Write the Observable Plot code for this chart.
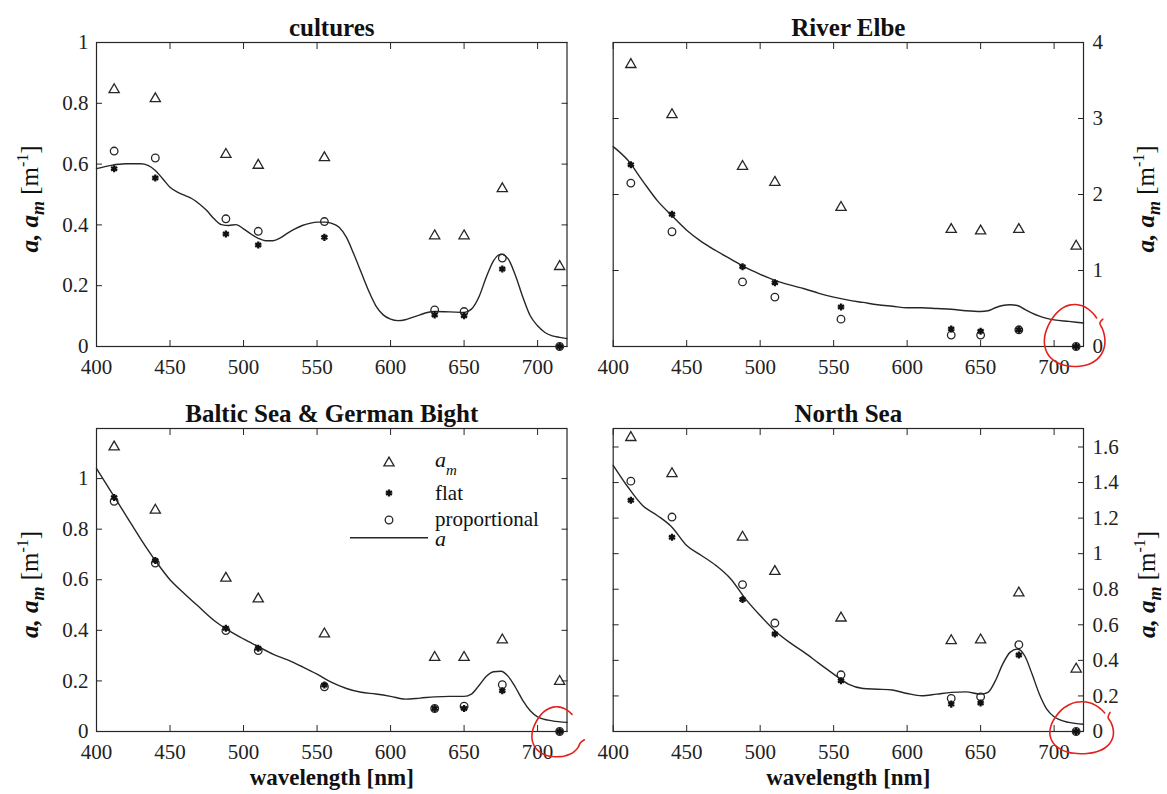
<!DOCTYPE html>
<html><head><meta charset="utf-8">
<script src="https://cdn.jsdelivr.net/npm/d3@7"></script>
<script src="https://cdn.jsdelivr.net/npm/@observablehq/plot@0.6"></script>
<style>
body{margin:0;background:#fff;}
#wrap{position:relative;width:1167px;height:794px;overflow:hidden;background:#fff;}
.panel{position:absolute;}
.panel svg{overflow:visible;}
#wrap svg, #wrap svg text, #wrap svg tspan{font-family:"Liberation Serif","Times New Roman",serif !important;}
</style></head><body><div id="wrap"></div>
<script>
// ---------- data ----------
const wavelengths = [412, 440, 488, 510, 555, 630, 650, 676, 715];
const xTicks = [400, 450, 500, 550, 600, 650, 700];

// cultures
const culturesAm   = [0.845, 0.815, 0.632, 0.596, 0.621, 0.364, 0.364, 0.519, 0.263];
const culturesFlat = [0.585, 0.554, 0.370, 0.334, 0.359, 0.104, 0.101, 0.255, 0.0];
const culturesProp = [0.643, 0.620, 0.420, 0.379, 0.411, 0.120, 0.115, 0.291, 0.0];
const culturesCurveWl = [400,410,420,430,435,440,445,450,455,460,465,470,475,480,485,490,495,500,505,510,515,520,525,530,535,540,545,550,555,560,565,570,575,580,585,590,595,600,605,610,615,620,625,630,640,650,655,660,665,670,675,680,685,690,695,700,705,710,715,720];
const culturesCurveA  = [0.585,0.596,0.601,0.601,0.596,0.579,0.552,0.524,0.508,0.497,0.486,0.469,0.447,0.420,0.401,0.398,0.401,0.387,0.370,0.356,0.348,0.348,0.357,0.373,0.387,0.398,0.405,0.409,0.409,0.405,0.392,0.359,0.304,0.244,0.184,0.134,0.104,0.090,0.085,0.088,0.096,0.104,0.112,0.115,0.114,0.112,0.123,0.162,0.227,0.282,0.304,0.288,0.233,0.162,0.101,0.068,0.046,0.035,0.030,0.026];

// River Elbe
const elbeAm   = [3.71, 3.05, 2.37, 2.16, 1.83, 1.54, 1.52, 1.54, 1.32];
const elbeFlat = [2.39, 1.74, 1.05, 0.84, 0.52, 0.23, 0.20, 0.22, 0.0];
const elbeProp = [2.15, 1.51, 0.85, 0.65, 0.36, 0.15, 0.15, 0.22, 0.0];
const seaCurveWl = [400,410,420,430,440,450,460,470,480,490,500,510,520,530,540,550,560,570,580,590,600,610,620,630,640,650,655,660,665,670,675,680,685,690,695,700,710,720];
const elbeCurveA = [2.63,2.45,2.18,1.92,1.72,1.53,1.38,1.26,1.15,1.04,0.95,0.87,0.81,0.76,0.70,0.65,0.61,0.58,0.55,0.53,0.51,0.51,0.50,0.49,0.47,0.46,0.47,0.51,0.54,0.55,0.54,0.49,0.44,0.40,0.37,0.35,0.33,0.31];

// Baltic Sea & German Bight
const balticAm   = [1.125, 0.875, 0.606, 0.524, 0.386, 0.293, 0.293, 0.362, 0.198];
const balticFlat = [0.925, 0.676, 0.408, 0.329, 0.184, 0.091, 0.091, 0.161, 0.0];
const balticProp = [0.910, 0.666, 0.399, 0.320, 0.177, 0.091, 0.100, 0.185, 0.0];
const balticCurveA = [1.04,0.947,0.855,0.762,0.676,0.600,0.544,0.491,0.439,0.399,0.366,0.336,0.306,0.283,0.256,0.227,0.194,0.170,0.155,0.148,0.139,0.128,0.132,0.137,0.139,0.139,0.148,0.181,0.217,0.236,0.238,0.218,0.174,0.122,0.082,0.058,0.042,0.036];

// North Sea
const northAm   = [1.653, 1.450, 1.093, 0.900, 0.638, 0.511, 0.515, 0.779, 0.351];
const northFlat = [1.300, 1.093, 0.742, 0.548, 0.285, 0.154, 0.160, 0.430, 0.0];
const northProp = [1.408, 1.206, 0.826, 0.610, 0.319, 0.186, 0.195, 0.488, 0.0];
const northCurveA = [1.497,1.375,1.271,1.215,1.149,1.046,0.990,0.933,0.858,0.746,0.652,0.567,0.501,0.445,0.383,0.323,0.267,0.242,0.238,0.233,0.214,0.201,0.210,0.220,0.223,0.210,0.220,0.285,0.379,0.445,0.464,0.426,0.323,0.210,0.126,0.083,0.051,0.041];

const titles = ["cultures", "River Elbe", "Baltic Sea & German Bight", "North Sea"];
const legendLabels = ["flat", "proportional"];
const xLabel = "wavelength [nm]";

// ---------- drawing ----------
const SERIF = '"Liberation Serif", "Times New Roman", serif';
const INK = "#262626";
const fmt = d => String(+d.toFixed(1));

function yLabel(svg, x, y) {
  const t = d3.select(svg).append("text")
    .attr("transform", `translate(${x},${y}) rotate(-90)`)
    .attr("text-anchor", "middle").attr("font-family", SERIF)
    .attr("font-size", 25).attr("fill", "#111");
  t.append("tspan").attr("font-weight", "bold").attr("font-style", "italic").text("a, a");
  t.append("tspan").attr("font-weight", "bold").attr("font-style", "italic").attr("font-size", 18).attr("dy", 6).text("m");
  t.append("tspan").attr("dy", -6).text(" [m");
  t.append("tspan").attr("font-size", 16).attr("dy", -10).text("-1");
  t.append("tspan").attr("dy", 10).text("]");
}

function annotate(svg, plot, o) {
  const cx = plot.scale("x").apply(715) + o.dx;
  const cy = plot.scale("y").apply(0) + o.dy;
  const pts = [];
  for (let a = o.a0; a >= o.a1; a -= 12) {
    const t = a * Math.PI / 180;
    const k = 1 + 0.05 * Math.sin(3 * t);
    pts.push([cx + o.rx * k * Math.cos(t), cy + o.ry * k * Math.sin(t)]);
  }
  if (o.hook) pts.push([pts[pts.length - 1][0] + o.hook[0], pts[pts.length - 1][1] + o.hook[1]]);
  d3.select(svg).append("path")
    .attr("d", d3.line().curve(d3.curveCatmullRom)(pts))
    .attr("fill", "none").attr("stroke", "#e3211c").attr("stroke-width", 1.6)
    .attr("stroke-linecap", "round");
}

function makePanel(cfg) {
  const pts = vals => wavelengths.map((w, i) => ({w, v: vals[i]}));
  const curve = cfg.curveWl.map((w, i) => ({w, v: cfg.curveA[i]}));
  const other = cfg.side === "left" ? "right" : "left";
  const marks = [
    Plot.axisX({anchor: "bottom", ticks: xTicks, tickSize: -6, tickPadding: 19, tickFormat: d => String(d), fontSize: 21, label: null, stroke: INK, fill: "#222"}),
    Plot.axisX({anchor: "top", ticks: xTicks, tickSize: -6, tickFormat: () => "", label: null, stroke: INK}),
    Plot.axisY({anchor: cfg.side, ticks: cfg.yTicks, tickSize: -6, tickPadding: cfg.side === "left" ? 14 : 15, tickFormat: fmt, fontSize: 21, label: null, stroke: INK, fill: "#222"}),
    Plot.axisY({anchor: other, ticks: cfg.yTicks, tickSize: -6, tickFormat: () => "", label: null, stroke: INK}),
    Plot.frame({stroke: INK, strokeWidth: 1.2}),
    Plot.line(curve, {x: "w", y: "v", stroke: INK, strokeWidth: 1.4, curve: "monotone-x"}),
    Plot.dot(pts(cfg.am), {x: "w", y: "v", symbol: "triangle", r: 3.8, stroke: INK, strokeWidth: 1.3, fill: "none"}),
    Plot.dot(pts(cfg.prop), {x: "w", y: "v", symbol: "circle", r: 3.8, stroke: INK, strokeWidth: 1.3, fill: "none"}),
    Plot.dot(pts(cfg.flat), {x: "w", y: "v", symbol: "asterisk", r: 3.3, stroke: "#111", strokeWidth: 2.3}),
    Plot.text([cfg.title], {frameAnchor: "top", text: d => d, dy: -24, fontWeight: "bold", fontSize: 25, fill: "#111"})
  ];
  if (cfg.xlabel) marks.push(Plot.text([xLabel], {frameAnchor: "bottom", text: d => d, dy: 53, fontWeight: "bold", fontSize: 23, fill: "#111"}));
  const plot = Plot.plot({
    width: cfg.size[0], height: cfg.size[1],
    marginLeft: cfg.m[0], marginRight: cfg.m[1], marginTop: cfg.m[2], marginBottom: cfg.m[3],
    style: {fontFamily: SERIF, fontSize: "21px", color: INK, background: "transparent", overflow: "visible"},
    x: {domain: [400, 720], label: null},
    y: {domain: cfg.yDomain, label: null},
    marks
  });
  const div = document.createElement("div");
  div.className = "panel";
  div.style.left = cfg.pos[0] + "px";
  div.style.top = cfg.pos[1] + "px";
  div.appendChild(plot);
  document.getElementById("wrap").appendChild(div);
  const svg = plot.tagName === "svg" ? plot : plot.querySelector("svg");
  const midY = (cfg.m[2] + cfg.size[1] - cfg.m[3]) / 2 + 5;
  yLabel(svg, cfg.labelX, midY);
  if (cfg.annot) annotate(svg, plot, cfg.annot);
  return {plot, svg};
}

try {
  makePanel({title: titles[0], am: culturesAm, flat: culturesFlat, prop: culturesProp,
    curveWl: culturesCurveWl, curveA: culturesCurveA, yDomain: [0, 1], yTicks: [0, 0.2, 0.4, 0.6, 0.8, 1],
    side: "left", pos: [0, 0], size: [590, 390], m: [96, 23.5, 42, 44], labelX: 38});
  makePanel({title: titles[1], am: elbeAm, flat: elbeFlat, prop: elbeProp,
    curveWl: seaCurveWl, curveA: elbeCurveA, yDomain: [0, 4], yTicks: [0, 1, 2, 3, 4],
    side: "right", pos: [590, 0], size: [577, 390], m: [22.7, 84, 42, 44], labelX: 564,
    annot: {dx: -1, dy: -9, rx: 30, ry: 31, a0: -40, a1: -392, hook: [3, -4]}});
  const bl = makePanel({title: titles[2], am: balticAm, flat: balticFlat, prop: balticProp,
    curveWl: seaCurveWl, curveA: balticCurveA, yDomain: [0, 1.198], yTicks: [0, 0.2, 0.4, 0.6, 0.8, 1],
    side: "left", pos: [0, 390], size: [590, 404], m: [96, 23.5, 38, 63], labelX: 38, xlabel: true,
    annot: {dx: -2.5, dy: 2, rx: 24.5, ry: 25, a0: -50, a1: -340, hook: [4, -3]}});
  makePanel({title: titles[3], am: northAm, flat: northFlat, prop: northProp,
    curveWl: seaCurveWl, curveA: northCurveA, yDomain: [0, 1.704], yTicks: [0, 0.2, 0.4, 0.6, 0.8, 1, 1.2, 1.4, 1.6],
    side: "right", pos: [590, 390], size: [577, 404], m: [22.7, 84, 38, 63], labelX: 565, xlabel: true,
    annot: {dx: 6, dy: -2, rx: 31.5, ry: 26, a0: -40, a1: -395, hook: [2, -5]}});

  // legend in Baltic panel
  const g = d3.select(bl.svg).append("g").attr("font-family", SERIF).attr("fill", "#111").attr("text-anchor", "start");
  const sx = 389, tx = 435;
  const area = Math.PI * 3.8 * 3.8;
  g.append("path").attr("transform", `translate(${sx},73)`).attr("d", d3.symbol(d3.symbolTriangle, area)())
    .attr("fill", "none").attr("stroke", INK).attr("stroke-width", 1.3);
  g.append("path").attr("transform", `translate(${sx},103)`).attr("d", d3.symbol(d3.symbolAsterisk, Math.PI * 3.3 * 3.3)())
    .attr("fill", "none").attr("stroke", "#111").attr("stroke-width", 2.3);
  g.append("path").attr("transform", `translate(${sx},130)`).attr("d", d3.symbol(d3.symbolCircle, area)())
    .attr("fill", "none").attr("stroke", INK).attr("stroke-width", 1.3);
  g.append("line").attr("x1", 350).attr("x2", 428).attr("y1", 147.7).attr("y2", 147.7).attr("stroke", INK).attr("stroke-width", 1.4);
  const t0 = g.append("text").attr("x", tx).attr("y", 77).attr("font-size", 22).attr("font-style", "italic");
  t0.append("tspan").text("a");
  t0.append("tspan").attr("font-size", 15).attr("dy", 8).text("m");
  g.append("text").attr("x", tx).attr("y", 110).attr("font-size", 21).text(legendLabels[0]);
  g.append("text").attr("x", tx).attr("y", 136).attr("font-size", 21).text(legendLabels[1]);
  g.append("text").attr("x", tx).attr("y", 156).attr("font-size", 22).attr("font-style", "italic").text("a");
} catch (e) {
  document.body.insertAdjacentHTML("beforeend", `<pre>${e.stack}</pre>`);
}
</script>
</body></html>
